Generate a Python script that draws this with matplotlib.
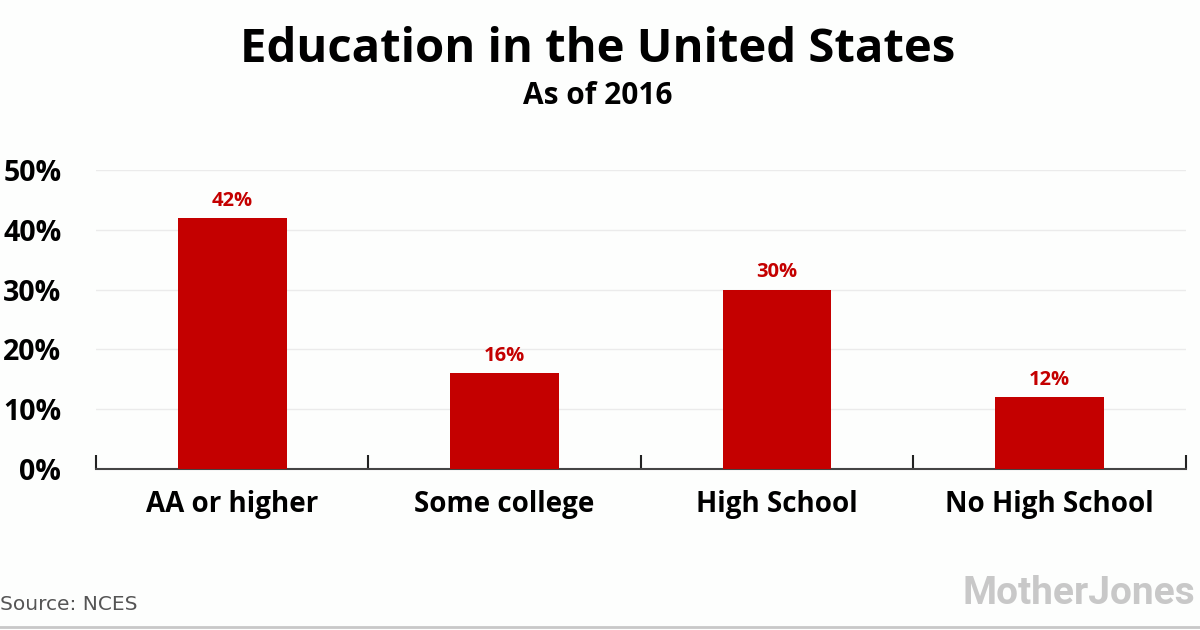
import matplotlib.pyplot as plt
from matplotlib.ticker import FuncFormatter

categories = ["AA or higher", "Some college", "High School", "No High School"]
shares = [42, 16, 30, 12]
yticks = [0, 10, 20, 30, 40, 50]

RED = "#c40000"
FONT = ["Open Sans", "DejaVu Sans"]

fig = plt.figure(figsize=(12, 6.3), dpi=100)
fig.patch.set_facecolor("#fdfefd")
ax = fig.add_axes([0.08, 0.2556, 0.908, 0.4746])
ax.set_facecolor("#fdfefd")

x = range(len(categories))
ax.bar(x, shares, width=0.4, color=RED, zorder=3)
for i, v in zip(x, shares):
    ax.text(i, v + 1.2, f"{v}%", ha="center", va="bottom", color=RED,
            fontsize=14.5, fontweight="bold", family=FONT)

ax.set_xlim(-0.5, len(categories) - 0.5)
ax.set_ylim(0, 50)
ax.set_yticks(yticks)
ax.yaxis.set_major_formatter(FuncFormatter(lambda v, p: f"{v:.0f}%"))
ax.grid(axis="y", color="#ebebeb", linewidth=1, zorder=0)

ax.set_xticks([i - 0.5 for i in range(len(categories) + 1)])
ax.set_xticklabels([])
ax.set_xticks(list(x), minor=True)
ax.set_xticklabels(categories, minor=True)
ax.tick_params(axis="x", which="major", direction="in", length=10, width=1.5, color="#222222")
ax.tick_params(axis="x", which="minor", length=0, pad=15)
ax.tick_params(axis="y", length=0, pad=25)

for lab in ax.get_yticklabels():
    lab.set_fontsize(20.5)
    lab.set_fontweight("bold")
    lab.set_family(FONT)
for lab in ax.get_xticklabels(minor=True):
    lab.set_fontsize(20)
    lab.set_fontweight("bold")
    lab.set_family(FONT)

for s in ["top", "right", "left"]:
    ax.spines[s].set_visible(False)
ax.spines["bottom"].set_color("#444444")
ax.spines["bottom"].set_linewidth(1.5)

fig.text(0.498, 0.922, "Education in the United States", ha="center", va="center",
         fontsize=34, fontweight="bold", family=FONT)
fig.text(0.498, 0.848, "As of 2016", ha="center", va="center",
         fontsize=21.5, fontweight="bold", family=FONT)

fig.text(0.0, 0.04, "Source: NCES", ha="left", va="center", color="#555555",
         fontsize=14.5, family=["DejaVu Sans"])
fig.text(0.996, 0.058, "MotherJones", ha="right", va="center", color="#c8c8c8",
         fontsize=28, fontweight="bold", family=["Roboto", "DejaVu Sans"])
fig.add_artist(plt.Line2D([0, 1], [0.004, 0.004], color="#c8c8c8", linewidth=2))

fig.savefig("out.png", dpi=100, facecolor=fig.get_facecolor())
